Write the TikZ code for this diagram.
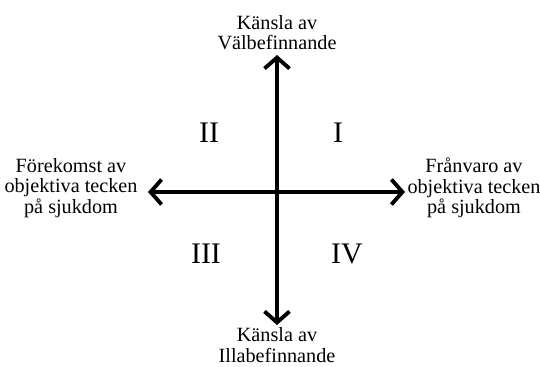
\documentclass[tikz,border=0pt]{standalone}
\usepackage{fontspec}
\setmainfont{Liberation Serif}
\usepackage{tikz}
\usetikzlibrary{arrows.meta,positioning}

\begin{document}
\begin{tikzpicture}[x=0.02cm, y=-0.02cm,
      axis/.style={{Straight Barb[length=0.22cm, width=0.5cm]}-{Straight Barb[length=0.22cm, width=0.5cm]},
                   line width=2.2pt, color=black},
      lbl/.style={font=\fontsize{11.5}{11.5}\selectfont, align=center, inner sep=0pt},
      quad/.style={font=\fontsize{17}{17}\selectfont, inner sep=0pt}
  ]
    \useasboundingbox (0,0) rectangle (540,367);
    % ends of the axes
    \coordinate (top) at (277,55);
    \coordinate (bot) at (277,325);
    \coordinate (lft) at (148,192);
    \coordinate (rgt) at (405,192);
    \draw[axis] (bot)--(top);
    \draw[axis] (lft)--(rgt);
    % axis labels
    \node[lbl] (vb) at (277,33) {K\"ansla av\\ V\"albefinnande};
    \node[lbl] (ib) at (277,345) {K\"ansla av\\ Illabefinnande};
    \node[lbl] (fo) at (71,188) {F\"orekomst av\\ objektiva tecken\\ p\aa{} sjukdom};
    \node[lbl] (fr) at (474,188) {Fr\aa nvaro av\\ objektiva tecken\\ p\aa{} sjukdom};
    % quadrants
    \node[quad] (q1) at (338,133) {I};
    \node[quad] (q2) at (209,133) {II};
    \node[quad] (q3) at (206,254) {III};
    \node[quad] (q4) at (347,254) {IV};
  \end{tikzpicture}
\end{document}
